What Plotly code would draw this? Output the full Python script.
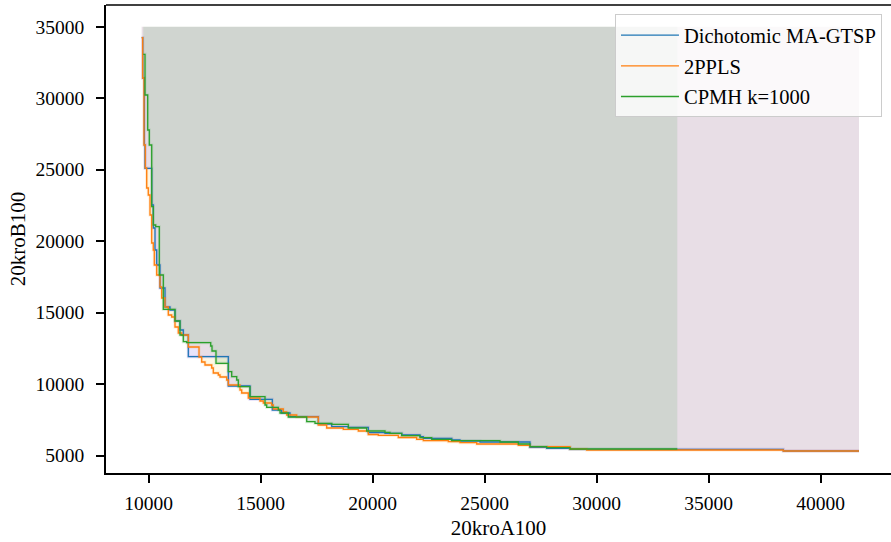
import plotly.graph_objects as go

# ---- data ----
ref_y = 35000

dicho_x = [9687, 9732, 9804, 9835, 10134, 10205, 10281, 10357, 10504, 10504, 10728, 10951, 11174,
           11397, 11545, 11768, 13554, 14522, 15518, 15937, 16308, 17571, 18170, 18911, 19804,
           20549, 21295, 22112, 22259, 23527, 23897, 24790, 27022, 27768, 28808, 38330, 41710]
dicho_y = [34230, 31411, 26725, 25095, 22528, 20919, 19380, 18331, 17632, 16723, 15394, 15184, 14415,
           13785, 13435, 11917, 9868, 8938, 8189, 7980, 7721, 7210, 7021, 6979, 6602,
           6560, 6441, 6322, 6210, 6091, 6021, 5951, 5581, 5511, 5441, 5322, 5322]

ppls_x = [9687, 9732, 9790, 9848, 9911, 9982, 10058, 10134, 10205, 10250, 10357, 10504, 10580,
          10728, 10875, 11027, 11174, 11321, 11473, 11768, 12246, 12366, 12513, 12813, 12884,
          13107, 13183, 13482, 13554, 14076, 14152, 14446, 14969, 15116, 15491, 15563, 16009,
          16161, 16607, 17571, 17946, 18687, 19357, 19804, 20250, 21143, 21964, 22259, 23375,
          23897, 24643, 26500, 27022, 28808, 29554, 38330, 41710]
ppls_y = [34230, 31411, 26725, 25116, 23717, 23227, 21829, 19870, 19380, 18331, 17632, 16792, 16023,
          15394, 14834, 14694, 13995, 13575, 13435, 12596, 11896, 11547, 11337, 11127, 10777,
          10637, 10498, 10288, 9938, 9588, 9379, 9029, 8819, 8679, 8539, 8259, 8050,
          7840, 7700, 7140, 6930, 6840, 6721, 6476, 6420, 6266, 6140, 6042, 5972,
          5902, 5811, 5720, 5622, 5462, 5392, 5322, 5322]

cpmh_x = [9759, 9835, 9955, 10027, 10134, 10205, 10313, 10473, 10652, 10652, 11174, 11397, 11545,
          11696, 12768, 12826, 13004, 13554, 13705, 13929, 14000, 14522, 15192, 15268, 15786,
          15862, 16232, 17054, 17424, 18170, 18911, 19732, 20549, 20772, 21295, 22112, 22634,
          23527, 25683, 26500, 27022, 27768, 28808, 33598]
cpmh_y = [33069, 30222, 27774, 26725, 22409, 21129, 21010, 17632, 16583, 15233, 14415, 13435, 12967,
          12897, 12666, 12316, 11456, 10868, 10519, 10288, 9819, 9120, 8539, 8378, 8189,
          7980, 7700, 7371, 7259, 7189, 6930, 6721, 6630, 6560, 6392, 6252, 6140,
          6042, 5951, 5811, 5622, 5553, 5462, 5462]

names = ["Dichotomic MA-GTSP", "2PPLS", "CPMH k=1000"]
x_ticks = [10000, 15000, 20000, 25000, 30000, 35000, 40000]
y_ticks = [5000, 10000, 15000, 20000, 25000, 30000, 35000]

series = [(names[0], dicho_x, dicho_y), (names[1], ppls_x, ppls_y), (names[2], cpmh_x, cpmh_y)]
line_colors = ["#1f77b4", "#ff7f0e", "#2ca02c"]
fill_colors = ["rgba(140,118,230,0.2)", "rgba(255,220,130,0.2)", "rgba(117,182,120,0.2)"]
edge_colors = ["rgba(140,118,230,0.25)", "rgba(255,190,110,0.3)", "rgba(117,182,120,0.25)"]
fill_order = [1, 0, 2]

FONT = "Liberation Serif"

fig = go.Figure()

for i in fill_order:
    nm, xs, ys = series[i]
    fx = [xs[0]] + list(xs) + [xs[-1]]
    fy = [ref_y] + list(ys) + [ref_y]
    fig.add_trace(go.Scatter(x=fx, y=fy, mode="lines", line_shape="hv", fill="toself",
                             fillcolor=fill_colors[i], line=dict(width=0),
                             showlegend=False, hoverinfo="skip"))
    # soft halo along the front (edge of the filled region)
    fig.add_trace(go.Scatter(x=xs, y=ys, mode="lines", line_shape="hv",
                             line=dict(width=3, color=edge_colors[i]),
                             showlegend=False, hoverinfo="skip"))

for i, (nm, xs, ys) in enumerate(series):
    fig.add_trace(go.Scatter(x=xs, y=ys, mode="lines", line_shape="hv", name=nm,
                             line=dict(color=line_colors[i], width=1.3), legendgroup=nm))

axis_common = dict(showline=True, linecolor="black", linewidth=1.6, ticks="outside", ticklen=8,
                   tickwidth=1.6, tickcolor="black", showgrid=False, zeroline=False,
                   tickfont=dict(family=FONT, size=19.5, color="black"), mirror=False)

fig.update_xaxes(range=[8094, 43138], tickvals=x_ticks, ticktext=[str(v) for v in x_ticks],
                 title=dict(text="20kroA100", font=dict(family=FONT, size=21, color="black"), standoff=7),
                 ticklabelstandoff=4, **axis_common)
fig.update_yaxes(range=[3783, 36518], tickvals=y_ticks, ticktext=[str(v) for v in y_ticks],
                 title=dict(text="20kroB100", font=dict(family=FONT, size=21, color="black"), standoff=4),
                 ticklabelstandoff=8, **axis_common)

fig.add_shape(type="line", xref="paper", yref="paper", x0=0, x1=1, y0=1, y1=1,
              line=dict(color="black", width=1.6), layer="above")

fig.update_layout(
    width=891, height=542,
    margin=dict(l=106, r=0, t=5, b=69, autoexpand=False),
    plot_bgcolor="white", paper_bgcolor="white",
    font=dict(family=FONT, size=19.5, color="black"),
    legend=dict(x=0.9885, xanchor="right", y=0.98, yanchor="top",
                bgcolor="rgba(255,255,255,0.8)", bordercolor="rgb(204,204,204)", borderwidth=1,
                font=dict(family=FONT, size=20.5, color="black"), itemwidth=58,
                tracegroupgap=1, traceorder="grouped"),
)

fig.write_html("out.html")
